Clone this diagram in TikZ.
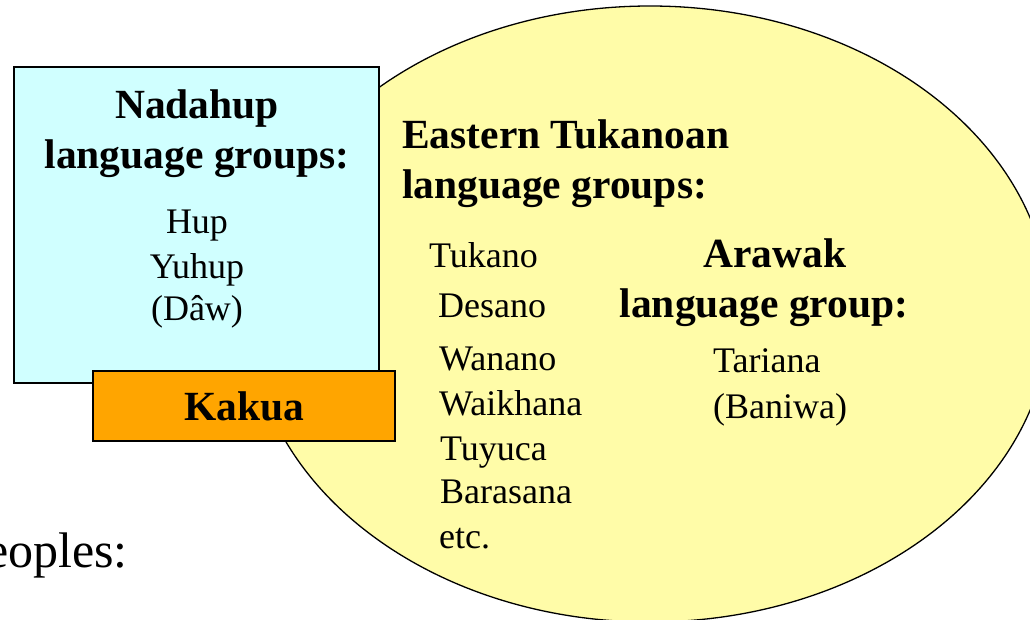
\documentclass[tikz,border=0pt]{standalone}
\usepackage{fontspec}
\setmainfont{Liberation Serif}
\definecolor{boxcyan}{HTML}{D0FFFF}
\definecolor{ellyellow}{HTML}{FFFCA8}
\definecolor{kakuaorange}{HTML}{FFA500}
\begin{document}
\begin{tikzpicture}[x=1pt,y=-1pt,
  head/.style={inner sep=0pt,font=\fontsize{41.5}{50}\selectfont\bfseries},
  item/.style={inner sep=0pt,font=\fontsize{36}{44}\selectfont},
  big/.style={inner sep=0pt,font=\fontsize{50}{60}\selectfont}]
\useasboundingbox (0,0) rectangle (1030,619);
\clip (0,0) rectangle (1030,619);
\fill[white] (0,0) rectangle (1030,619);
% ellipse
\draw[fill=ellyellow,line width=1.3pt] (650,314) ellipse [x radius=400,y radius=308];
% Nadahup box
\draw[fill=boxcyan,line width=1.5pt] (14,67) rectangle (379,383);
% Kakua box
\node[draw,fill=kakuaorange,line width=1.5pt,minimum width=302pt,minimum height=70pt,inner sep=0pt,
  font=\fontsize{41.5}{50}\selectfont\bfseries] (kakua) at (244,406) {Kakua};
% Nadahup texts
\node[head,anchor=base] (n1) at (197,118) {Nadahup};
\node[head,anchor=base] (n2) at (197,168) {language groups:};
\node[item,anchor=base] (hup) at (197,233) {Hup};
\node[item,anchor=base] (yuhup) at (197,278) {Yuhup};
\node[item,anchor=base] (daw) at (197,320) {(Dâw)};
% Eastern Tukanoan
\node[head,anchor=base west] (e1) at (402,148) {Eastern Tukanoan};
\node[head,anchor=base west] (e2) at (402,198) {language groups:};
\node[item,anchor=base west] (tukano) at (429,267) {Tukano};
\node[item,anchor=base west] (desano) at (438,317) {Desano};
\node[item,anchor=base west] (wanano) at (439,370) {Wanano};
\node[item,anchor=base west] (waikhana) at (439,415) {Waikhana};
\node[item,anchor=base west] (tuyuca) at (440,460) {Tuyuca};
\node[item,anchor=base west] (barasana) at (440,503) {Barasana};
\node[item,anchor=base west] (etc) at (439,548) {etc.};
% Arawak
\node[head,anchor=base] (a1) at (775,267) {Arawak};
\node[head,anchor=base] (a2) at (764,317) {language group:};
\node[item,anchor=base west] (tariana) at (713,372) {Tariana};
\node[item,anchor=base west] (baniwa) at (713,418) {(Baniwa)};
% Peoples
\node[big,anchor=base east] (peoples) at (128,567) {eoples:};
\end{tikzpicture}
\end{document}
